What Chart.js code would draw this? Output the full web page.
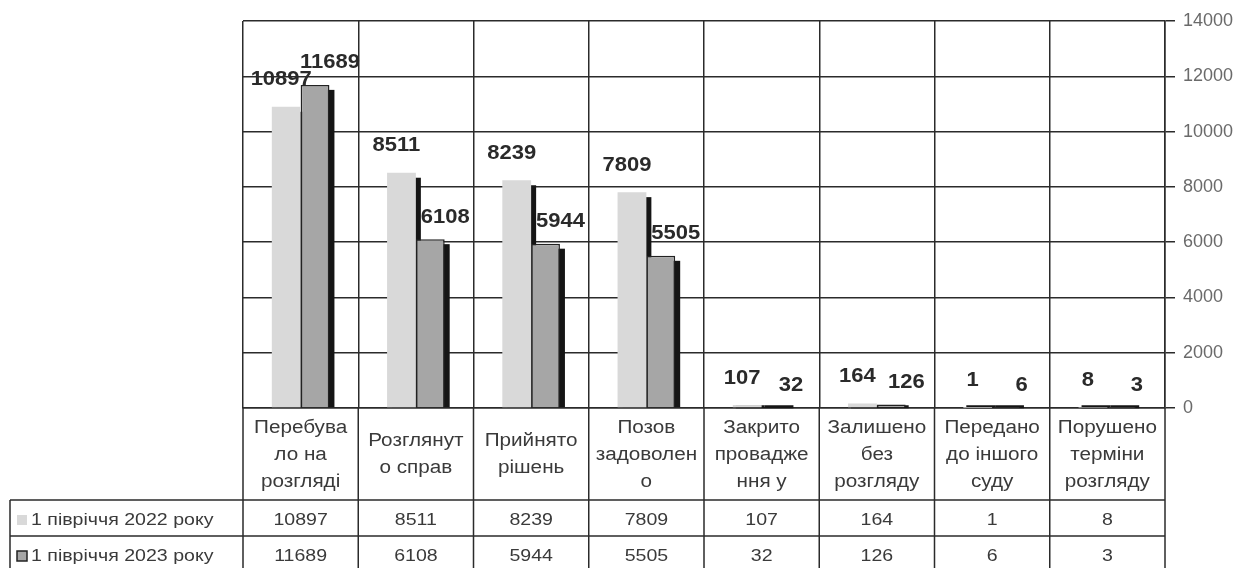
<!DOCTYPE html>
<html>
<head>
<meta charset="utf-8">
<script src="https://cdn.jsdelivr.net/npm/chart.js@4/dist/chart.umd.min.js"></script>
<style>
  html, body { margin: 0; padding: 0; background: #fff; }
  canvas { display: block; }
</style>
</head>
<body>
<canvas id="barChart" width="1251" height="568"></canvas>
<script>
// categories (split into lines as in the original table)
var categories = [
    ["Перебува", "ло на", "розгляді"],
    ["Розглянут", "о справ"],
    ["Прийнято", "рішень"],
    ["Позов", "задоволен", "о"],
    ["Закрито", "провадже", "ння у"],
    ["Залишено", "без", "розгляду"],
    ["Передано", "до іншого", "суду"],
    ["Порушено", "терміни", "розгляду"]
];
var seriesNames = ["1 півріччя 2022 року", "1 півріччя 2023 року"];
var values2022 = [10897, 8511, 8239, 7809, 107, 164, 1, 8];
var values2023 = [11689, 6108, 5944, 5505, 32, 126, 6, 3];
var yTicks = [0, 2000, 4000, 6000, 8000, 10000, 12000, 14000];

var FONT = "'Liberation Sans', Arial, sans-serif";
var LINE = "#2b2b2b";

// text is drawn a bit wider than normal, like the scanned original
function wideText(ctx, text, x, y, sx) {
    ctx.save();
    ctx.translate(x, y);
    ctx.scale(sx || 1.15, 1);
    ctx.fillText(text, 0, 0);
    ctx.restore();
}

// black drop shadow behind every bar (drawn before the bars)
var barShadow = {
    id: "barShadow",
    beforeDatasetsDraw: function (chart) {
        var ctx = chart.ctx;
        ctx.save();
        ctx.fillStyle = "#151515";
        chart.data.datasets.forEach(function (ds, di) {
            chart.getDatasetMeta(di).data.forEach(function (bar) {
                var p = bar.getProps(["x", "y", "base", "width"], true);
                var left = p.x - p.width / 2;
                var h = p.base - p.y;
                if (h > 5) {
                    ctx.fillRect(left + 5, p.y + 5, p.width, h - 5);
                } else {
                    ctx.fillRect(left + 3, p.base - 2, p.width, 3);
                }
            });
        });
        ctx.restore();
    }
};

// value labels above the bars
var valueLabels = {
    id: "valueLabels",
    afterDatasetsDraw: function (chart) {
        var ctx = chart.ctx;
        ctx.save();
        ctx.font = "bold 20px " + FONT;
        ctx.fillStyle = "#2a2a2a";
        ctx.textAlign = "center";
        ctx.textBaseline = "middle";
        chart.data.datasets.forEach(function (ds, di) {
            var meta = chart.getDatasetMeta(di);
            meta.data.forEach(function (bar, i) {
                var dx = di === 0 ? -5 : 15;
                var dy = di === 0 ? -27 : -22;
                wideText(ctx, String(ds.data[i]), bar.x + dx, bar.y + dy, 1.1);
            });
        });
        ctx.restore();
    }
};

// data table under the plot
var dataTable = {
    id: "dataTable",
    afterDraw: function (chart) {
        var ctx = chart.ctx;
        var area = chart.chartArea;
        var xs = chart.scales.x;
        var n = categories.length;
        var step = (area.right - area.left) / n;
        var labelBottom = 500;
        var rowH = 36;
        var legendLeft = 10;

        ctx.save();
        ctx.strokeStyle = LINE;
        ctx.lineWidth = 1.5;

        // horizontal lines
        ctx.beginPath();
        ctx.moveTo(legendLeft, labelBottom);
        ctx.lineTo(area.right, labelBottom);
        ctx.moveTo(legendLeft, labelBottom + rowH);
        ctx.lineTo(area.right, labelBottom + rowH);
        ctx.moveTo(legendLeft, labelBottom + 2 * rowH);
        ctx.lineTo(area.right, labelBottom + 2 * rowH);
        // vertical lines
        for (var k = 0; k <= n; k++) {
            var vx = area.left + k * step;
            ctx.moveTo(vx, area.bottom);
            ctx.lineTo(vx, labelBottom + 2 * rowH);
        }
        ctx.moveTo(legendLeft, labelBottom);
        ctx.lineTo(legendLeft, labelBottom + 2 * rowH);
        ctx.stroke();

        ctx.fillStyle = "#3a3a3a";
        ctx.textAlign = "center";
        ctx.textBaseline = "middle";

        // category labels
        ctx.font = "18px " + FONT;
        categories.forEach(function (lines, i) {
            var cx = xs.getPixelForValue(i);
            var mid = (area.bottom + labelBottom) / 2 + 1;
            var lh = 27;
            var top = mid - (lines.length - 1) * lh / 2;
            lines.forEach(function (t, j) {
                wideText(ctx, t, cx, top + j * lh, 1.15);
            });
        });

        // values
        ctx.font = "17px " + FONT;
        [values2022, values2023].forEach(function (vals, r) {
            var cy = labelBottom + r * rowH + rowH / 2 + 2;
            vals.forEach(function (v, i) {
                wideText(ctx, String(v), xs.getPixelForValue(i), cy, 1.15);
            });
        });

        // legend column
        var colors = chart.data.datasets.map(function (d) { return d.backgroundColor; });
        seriesNames.forEach(function (name, r) {
            var cy = labelBottom + r * rowH + rowH / 2 + 2;
            ctx.fillStyle = colors[r];
            ctx.fillRect(17, cy - 5, 10, 10);
            if (r === 1) {
                ctx.lineWidth = 1.5;
                ctx.strokeStyle = "#222";
                ctx.strokeRect(17, cy - 5, 10, 10);
            }
            ctx.fillStyle = "#3a3a3a";
            ctx.textAlign = "left";
            wideText(ctx, name, 31, cy, 1.15);
        });
        ctx.restore();
    }
};

document.addEventListener("DOMContentLoaded", function () {
    var ctx = document.getElementById("barChart").getContext("2d");

    new Chart(ctx, {
        type: "bar",
        data: {
            labels: categories,
            datasets: [
                {
                    label: seriesNames[0],
                    data: values2022,
                    backgroundColor: "#d9d9d9",
                    borderWidth: 0,
                    categoryPercentage: 0.5,
                    barPercentage: 1.0
                },
                {
                    label: seriesNames[1],
                    data: values2023,
                    backgroundColor: "#a6a6a6",
                    borderColor: "#222",
                    borderWidth: 1.5,
                    categoryPercentage: 0.5,
                    barPercentage: 1.0
                }
            ]
        },
        options: {
            responsive: false,
            animation: false,
            layout: { padding: { left: 243, top: 21 } },
            plugins: {
                legend: { display: false },
                tooltip: { enabled: false }
            },
            scales: {
                x: {
                    ticks: { display: false },
                    grid: { color: LINE, lineWidth: 1.5, drawTicks: false, offset: true },
                    border: { color: LINE, width: 1.5 },
                    afterFit: function (s) { s.height = 160; }
                },
                y: {
                    position: "right",
                    min: 0,
                    max: 14000,
                    afterBuildTicks: function (s) {
                        s.ticks = yTicks.map(function (v) { return { value: v }; });
                    },
                    ticks: {
                        color: "#6a6a6a",
                        padding: 8,
                        font: { family: FONT, size: 18 },
                        callback: function (v) { return String(v); }
                    },
                    grid: { color: LINE, lineWidth: 1.5, tickLength: 10 },
                    border: { color: LINE, width: 1.5 },
                    afterFit: function (s) { s.width = 86; }
                }
            }
        },
        plugins: [barShadow, valueLabels, dataTable]
    });
});
</script>
</body>
</html>
